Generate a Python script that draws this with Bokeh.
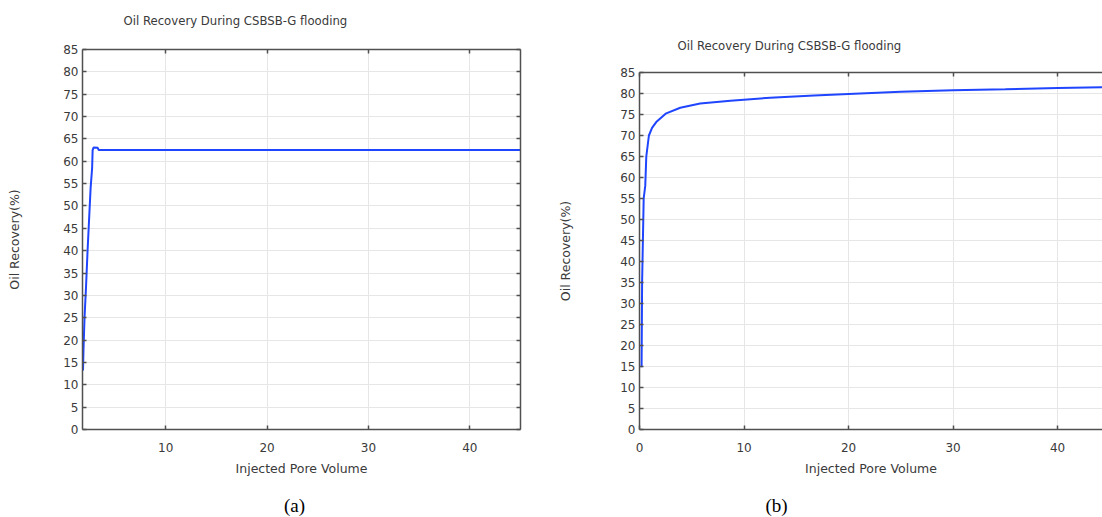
from bokeh.plotting import figure
from bokeh.layouts import row, column
from bokeh.models import FixedTicker, LinearAxis, Range1d
from bokeh.core.properties import value
from bokeh.embed import file_html
from bokeh.resources import INLINE

# ---- data ----
title_text = "Oil Recovery During CSBSB-G flooding"
x_label = "Injected Pore Volume"
y_label = "Oil Recovery(%)"
y_ticks = [0, 5, 10, 15, 20, 25, 30, 35, 40, 45, 50, 55, 60, 65, 70, 75, 80, 85]
x_ticks = [0, 10, 20, 30, 40]
captions = ["(a)", "(b)"]

# panel (a)
pv_a = [1.85, 1.9, 2.0, 2.15, 2.3, 2.45, 2.6, 2.75, 2.8, 2.9, 3.3, 3.4, 45.0]
rec_a = [13.2, 18.0, 25.0, 32.0, 40.0, 47.0, 54.0, 58.5, 62.5, 63.1, 63.0, 62.5, 62.5]

# panel (b)
pv_b = [0.2, 0.25, 0.4, 0.55, 0.65, 0.9, 1.2, 1.6, 2.5, 3.9, 5.8, 8.7, 12.5, 16.7,
        20.0, 25.0, 30.0, 35.0, 40.0, 44.3]
rec_b = [14.8, 35.0, 55.0, 58.0, 65.0, 70.0, 71.8, 73.2, 75.2, 76.6, 77.6, 78.3,
         79.0, 79.5, 79.9, 80.4, 80.8, 81.0, 81.3, 81.5]

FONT = "DejaVu Sans"
TXT = "#3a3a3a"
AX = "#505050"
BLUE = "#1f45ff"
GRID = "#e6e6e6"


def style_axis(ax, labels=True):
    ax.axis_line_color = AX
    ax.axis_line_width = 1.5
    ax.major_tick_line_color = AX
    ax.major_tick_line_width = 1.5
    ax.major_tick_in = 4
    ax.major_tick_out = 0
    ax.minor_tick_line_color = None
    ax.major_label_text_font = FONT
    ax.major_label_text_color = TXT
    ax.axis_label_text_font = FONT
    ax.axis_label_text_color = TXT
    ax.axis_label_text_font_style = "normal"
    ax.axis_label_text_font_size = "12.5px"
    if labels:
        ax.major_label_text_font_size = "12px"
    else:
        ax.major_label_text_font_size = "0px"
        ax.major_label_standoff = 0


def text_strip(width, height, left, right, txt, tx, ty, font, size, color, align):
    s = figure(width=width, height=height, output_backend="svg", toolbar_location=None,
               x_range=Range1d(0, width - left - right), y_range=Range1d(0, height),
               x_axis_type=None, y_axis_type=None,
               min_border_left=left, min_border_right=right,
               min_border_top=0, min_border_bottom=0,
               background_fill_color="white", border_fill_color="white")
    s.outline_line_color = None
    s.xgrid.visible = False
    s.ygrid.visible = False
    s.text(x=[tx], y=[ty], text=[txt], text_font=value(font), text_font_size=size,
           text_color=color, text_align=align, text_baseline="middle")
    return s


def make_panel(x, y, xr, width, height, left, right, full_box, ylab_standoff):
    p = figure(width=width, height=height, output_backend="svg", toolbar_location=None,
               x_range=Range1d(*xr), y_range=Range1d(0, 85),
               min_border_left=left, min_border_right=right,
               min_border_top=9, min_border_bottom=60,
               background_fill_color="white", border_fill_color="white")
    p.line(x, y, line_color=BLUE, line_width=2)
    p.xaxis.ticker = FixedTicker(ticks=x_ticks)
    p.yaxis.ticker = FixedTicker(ticks=y_ticks)
    p.xaxis.axis_label = x_label
    p.yaxis.axis_label = y_label
    style_axis(p.xaxis[0])
    style_axis(p.yaxis[0])
    p.xaxis.major_label_standoff = 13
    p.xaxis.axis_label_standoff = 6
    p.yaxis.major_label_standoff = 4
    p.yaxis.axis_label_standoff = ylab_standoff
    p.xgrid.grid_line_color = GRID
    p.ygrid.grid_line_color = GRID
    top_ax = LinearAxis(ticker=FixedTicker(ticks=x_ticks))
    style_axis(top_ax, labels=False)
    p.add_layout(top_ax, "above")
    if full_box:
        right_ax = LinearAxis(ticker=FixedTicker(ticks=y_ticks))
        style_axis(right_ax, labels=False)
        p.add_layout(right_ax, "right")
    p.outline_line_color = None
    return p


# panel (a): 540 px wide, frame 82..520 x 49..429
ta = text_strip(540, 40, 82, 20, title_text, 41, 20, FONT, "11.7px", TXT, "left")
pa = make_panel(pv_a, rec_a, (1.8, 45.0), 540, 449, 82, 20, True, 38)
ca = text_strip(540, 28, 82, 20, captions[0], 212, 12, "Liberation Serif", "19px", "#000000", "center")

# panel (b): 562 px wide, frame 639..1102 x 72..429
tb = text_strip(562, 63, 99, 0, title_text, 38, 18, FONT, "11.7px", TXT, "left")
pb = make_panel(pv_b, rec_b, (0.0, 44.3), 562, 426, 99, 0, False, 44)
cb = text_strip(562, 28, 99, 0, captions[1], 137, 12, "Liberation Serif", "19px", "#000000", "center")

layout = row(column(ta, pa, ca, spacing=0), column(tb, pb, cb, spacing=0), spacing=0)
open("out.html", "w").write(file_html(layout, INLINE))
